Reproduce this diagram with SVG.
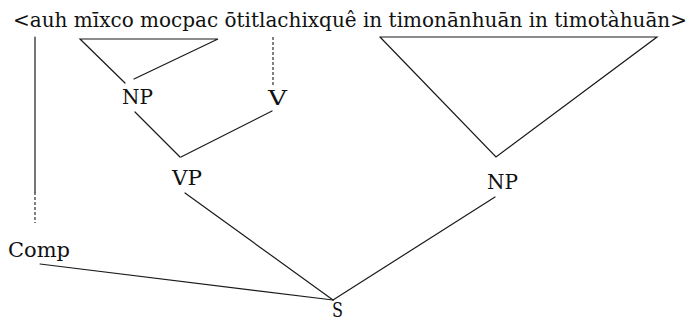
<svg xmlns="http://www.w3.org/2000/svg" width="689" height="321" viewBox="0 0 689 321">
<style>
.t{font-family:'DejaVu Serif','Liberation Serif',serif;font-size:20px;fill:#111}
.l{stroke:#1a1a1a;stroke-width:1.2;fill:none;stroke-linecap:round}
.d{stroke:#1a1a1a;stroke-width:1.1;fill:none;stroke-dasharray:3 2}
</style>
<rect width="689" height="321" fill="#fff"/>
<g id="sentence">
<text class="t" x="13" y="27" textLength="674" lengthAdjust="spacingAndGlyphs">&lt;auh mīxco mocpac ōtitlachixquê in timonānhuān in timotàhuān&gt;</text>
</g>
<g id="connectors">
<line class="l" x1="35" y1="37" x2="35" y2="192"/>
<line class="d" x1="35" y1="192" x2="35" y2="223"/>
<line class="d" x1="273" y1="37" x2="273" y2="85"/>
<polyline class="l" points="125,83 80,39 218,39 134,79"/>
<polyline class="l" points="380,37 657,37 496,157 380,37"/>
<line class="l" x1="135" y1="112" x2="180" y2="157"/>
<line class="l" x1="272" y1="111" x2="181" y2="157"/>
<line class="l" x1="185" y1="193" x2="333" y2="300"/>
<line class="l" x1="495" y1="197" x2="333" y2="300"/>
<line class="l" x1="40" y1="264" x2="333" y2="300"/>
</g>
<g id="np1"><text class="t" x="122" y="104" textLength="31" lengthAdjust="spacingAndGlyphs">NP</text></g>
<g id="v"><text class="t" x="268" y="105" textLength="19" lengthAdjust="spacingAndGlyphs">V</text></g>
<g id="vp"><text class="t" x="172" y="185" textLength="30" lengthAdjust="spacingAndGlyphs">VP</text></g>
<g id="np2"><text class="t" x="487" y="189" textLength="31" lengthAdjust="spacingAndGlyphs">NP</text></g>
<g id="comp"><text class="t" x="8" y="257" textLength="62" lengthAdjust="spacingAndGlyphs">Comp</text></g>
<g id="s"><text class="t" x="332" y="317" font-size="17" textLength="11" lengthAdjust="spacingAndGlyphs">S</text></g>
</svg>
